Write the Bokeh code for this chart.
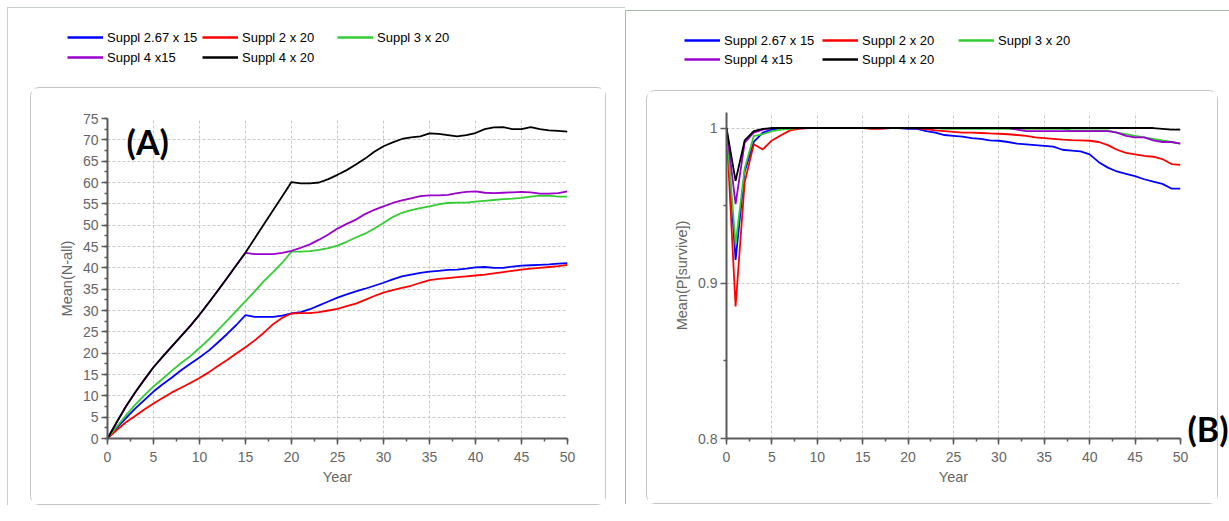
from bokeh.plotting import figure
from bokeh.layouts import row, column
from bokeh.models import (Label, Legend, LegendItem, SingleIntervalTicker,
                          FixedTicker, CustomJSTickFormatter, Range1d)
from bokeh.embed import file_html
from bokeh.resources import INLINE

years = list(range(0, 51))
series_names = ["Suppl 2.67 x 15", "Suppl 2 x 20", "Suppl 3 x 20", "Suppl 4 x15", "Suppl 4 x 20"]
series_colors = ["#0000ff", "#ff0000", "#33cc33", "#9900cc", "#000000"]

# Panel A: Mean(N-all)
a_blue = [0, 2.5, 4.8, 7.0, 9.0, 11.0, 12.7, 14.3, 16.0, 17.5, 19.0,
          20.6, 22.5, 24.5, 26.6, 28.9, 28.5, 28.5, 28.5, 28.8, 29.3,
          29.6, 30.3, 31.2, 32.1, 33.0, 33.8, 34.5, 35.1, 35.8, 36.5,
          37.3, 38.0, 38.4, 38.8, 39.1, 39.3, 39.5, 39.6, 39.8, 40.1,
          40.2, 40.0, 40.0, 40.3, 40.5, 40.6, 40.7, 40.8, 41.0, 41.1]
a_red = [0, 2.0, 3.8, 5.3, 6.8, 8.2, 9.5, 10.8, 11.9, 13.0, 14.2,
         15.5, 17.0, 18.4, 19.9, 21.4, 23.0, 24.8, 26.8, 28.3, 29.3,
         29.4, 29.4, 29.6, 30.0, 30.4, 31.0, 31.6, 32.5, 33.4, 34.2,
         34.8, 35.3, 35.8, 36.5, 37.1, 37.4, 37.6, 37.8, 38.0, 38.2,
         38.4, 38.7, 39.0, 39.3, 39.6, 39.8, 40.0, 40.2, 40.4, 40.7]
a_green = [0, 2.8, 5.4, 7.9, 10.1, 12.2, 14.0, 15.9, 17.7, 19.3, 21.2,
           23.2, 25.4, 27.6, 29.9, 32.2, 34.5, 36.9, 39.0, 41.2, 43.8,
           43.8, 43.9, 44.2, 44.6, 45.2, 46.1, 47.1, 48.0, 49.2, 50.5,
           51.9, 52.9, 53.5, 54.0, 54.4, 54.9, 55.2, 55.3, 55.3, 55.5,
           55.7, 55.9, 56.1, 56.2, 56.4, 56.7, 56.9, 56.9, 56.7, 56.7]
a_purple = [0, 3.8, 7.5, 10.8, 13.8, 16.7, 19.2, 21.6, 24.0, 26.4, 29.0,
            31.8, 34.7, 37.6, 40.6, 43.5, 43.2, 43.2, 43.2, 43.5, 44.0,
            44.7, 45.5, 46.6, 47.8, 49.2, 50.3, 51.3, 52.6, 53.6, 54.4,
            55.2, 55.8, 56.3, 56.8, 57.0, 57.0, 57.1, 57.5, 57.8, 57.9,
            57.6, 57.5, 57.6, 57.7, 57.8, 57.7, 57.4, 57.4, 57.5, 57.9]
a_black = [0, 3.8, 7.5, 10.8, 13.8, 16.7, 19.2, 21.6, 24.0, 26.4, 29.0,
           31.8, 34.7, 37.6, 40.6, 43.6, 46.9, 50.2, 53.5, 56.8, 60.1,
           59.8, 59.8, 60.0, 60.8, 61.8, 62.9, 64.2, 65.6, 67.2, 68.5,
           69.4, 70.2, 70.6, 70.8, 71.5, 71.4, 71.1, 70.8, 71.1, 71.6,
           72.5, 72.9, 73.0, 72.5, 72.5, 73.0, 72.5, 72.2, 72.1, 71.9]

# Panel B: Mean(P[survive])
b_blue = [1, 0.915, 0.972, 0.991, 0.997, 0.999, 1, 1, 1, 1, 1,
          1, 1, 1, 1, 1, 1, 1, 1, 1, 0.9995,
          0.9994, 0.998, 0.997, 0.9955, 0.995, 0.9945, 0.9935, 0.993, 0.992, 0.9918,
          0.991, 0.990, 0.9895, 0.989, 0.9885, 0.988, 0.986, 0.9855, 0.985, 0.983,
          0.978, 0.9745, 0.972, 0.9705, 0.969, 0.967, 0.9655, 0.964, 0.961, 0.961]
b_red = [1, 0.885, 0.965, 0.9895, 0.9862, 0.992, 0.9953, 0.9985, 0.9995, 1, 1,
         1, 1, 1, 1, 1, 0.9995, 0.9995, 1, 1, 1,
         0.9998, 0.9993, 0.9985, 0.998, 0.9975, 0.997, 0.997, 0.9968, 0.9965, 0.9963,
         0.996, 0.9955, 0.995, 0.994, 0.9935, 0.993, 0.9925, 0.9922, 0.992, 0.9918,
         0.991, 0.989, 0.986, 0.984, 0.983, 0.982, 0.9815, 0.980, 0.9768, 0.9763]
b_green = [1, 0.925, 0.974, 0.9948, 0.996, 0.998, 0.999, 0.9995, 1, 1, 1,
           1, 1, 1, 1, 1, 1, 1, 1, 1, 1,
           1, 1, 1, 0.9995, 0.9995, 0.9995, 0.9995, 0.9995, 0.9995, 0.9995,
           0.9995, 0.9995, 0.9995, 0.9995, 0.9995, 0.9995, 0.9995, 0.9985, 0.9985, 0.9985,
           0.9985, 0.9985, 0.997, 0.996, 0.995, 0.994, 0.993, 0.992, 0.991, 0.990]
b_purple = [1, 0.951, 0.9906, 0.997, 0.999, 1, 1, 1, 1, 1, 1,
            1, 1, 1, 1, 1, 1, 1, 1, 1, 1,
            1, 1, 1, 1, 1, 1, 1, 1, 1, 1,
            1, 0.999, 0.998, 0.998, 0.998, 0.998, 0.998, 0.998, 0.998, 0.998,
            0.998, 0.998, 0.997, 0.995, 0.994, 0.994, 0.992, 0.991, 0.991, 0.990]
b_black = [1, 0.966, 0.992, 0.998, 0.9995, 1, 1, 1, 1, 1, 1,
           1, 1, 1, 1, 1, 1, 1, 1, 1, 1,
           1, 1, 1, 1, 1, 1, 1, 1, 1, 1,
           1, 1, 1, 1, 1, 1, 1, 1, 1, 1,
           1, 1, 1, 1, 1, 1, 1, 0.9995, 0.999, 0.999]

FONT = "Liberation Sans"
TICK_COL = "#666666"
AXIS_COL = "#5a5a5a"
GRID_COL = "#c8c8c8"
BOX_STYLE = {"border": "1px solid #c4c4c4", "border-radius": "9px"}


def style_axes(p):
    for ax in (p.xaxis[0], p.yaxis[0]):
        ax.axis_line_color = AXIS_COL
        ax.axis_line_width = 2
        ax.major_tick_line_color = AXIS_COL
        ax.minor_tick_line_color = AXIS_COL
        ax.major_tick_line_width = 1.5
        ax.minor_tick_line_width = 1.5
        ax.major_tick_out = 6
        ax.major_tick_in = 0
        ax.minor_tick_out = 3
        ax.minor_tick_in = 0
        ax.major_label_text_font = FONT
        ax.major_label_text_font_size = "14px"
        ax.major_label_text_color = TICK_COL
        ax.axis_label_text_font = FONT
        ax.axis_label_text_font_size = "14.5px"
        ax.axis_label_text_color = TICK_COL
        ax.axis_label_text_font_style = "normal"
    p.xaxis[0].major_label_standoff = 7
    p.xaxis[0].axis_label_standoff = 4
    p.yaxis[0].major_label_standoff = 3
    p.yaxis[0].axis_label_standoff = 5
    p.outline_line_color = None


def blank_fig(w, h, **kw):
    f = figure(width=w, height=h, x_range=Range1d(-100, -99), y_range=Range1d(0, 1),
               output_backend="svg", toolbar_location=None, min_border=0, **kw)
    f.axis.visible = False
    f.grid.visible = False
    f.outline_line_color = None
    f.background_fill_alpha = 0
    f.border_fill_alpha = 0
    return f


def legend_fig(w, h, data, xs, y2, y1, spacing):
    """Legend strip: three single-column legends (row-major reading order)."""
    f = blank_fig(w, h)
    rs = [f.line(years, ys, line_color=c, line_width=2.5) for ys, c in zip(data, series_colors)]
    groups = [[0, 3], [1, 4], [2]]
    for grp, x in zip(groups, xs):
        items = [LegendItem(label=series_names[i], renderers=[rs[i]]) for i in grp]
        lg = Legend(items=items, location=(x, y2 if len(grp) == 2 else y1))
        lg.label_text_font = FONT
        lg.label_text_font_size = "13px"
        lg.label_text_color = "#000000"
        lg.glyph_width = 36
        lg.glyph_height = 16
        lg.label_height = 16
        lg.label_standoff = 4
        lg.spacing = spacing
        lg.padding = 0
        lg.margin = 0
        lg.border_line_color = None
        lg.background_fill_alpha = 0
        f.add_layout(lg)
    return f


# ---------------- Panel A ----------------
a_data = [a_blue, a_red, a_green, a_purple, a_black]
legA = legend_fig(617, 79, a_data, [59, 194, 329], 22, 42, 4)

pA = figure(width=576, height=418, x_range=Range1d(0, 50), y_range=Range1d(0, 75),
            output_backend="svg", toolbar_location=None,
            min_border_left=76, min_border_right=40, min_border_top=30, min_border_bottom=68,
            x_axis_label="Year", y_axis_label="Mean(N-all)",
            margin=(0, 0, 0, 22), styles=BOX_STYLE)
pA.xaxis[0].ticker = SingleIntervalTicker(interval=5, num_minor_ticks=2)
pA.yaxis[0].ticker = SingleIntervalTicker(interval=5, num_minor_ticks=2)
pA.xgrid.ticker = SingleIntervalTicker(interval=5)
pA.ygrid.ticker = SingleIntervalTicker(interval=5)
for g in (pA.xgrid[0], pA.ygrid[0]):
    g.grid_line_color = GRID_COL
    g.grid_line_dash = "3 2"
    g.grid_line_width = 1
style_axes(pA)
for ys, c in zip(a_data, series_colors):
    pA.line(years, ys, line_color=c, line_width=1.8)
pA.add_layout(Label(x=2.07, y=74.3, text="(A)", text_font="Lato", text_font_style="bold",
                    text_font_size="34px", text_baseline="top", text_color="#000000"))

colA = column(legA, row(pA, spacing=0), margin=(7, 0, 0, 7), spacing=0,
              styles={"border-top": "1px solid #c9cfc9", "border-left": "1px solid #c9cfc9"})

# ---------------- Panel B ----------------
b_data = [b_blue, b_red, b_green, b_purple, b_black]
legB = legend_fig(603, 79, b_data, [58, 196, 332], 23, 42, 3)

pB = figure(width=572, height=414, x_range=Range1d(0, 50), y_range=Range1d(0.8, 1.01),
            output_backend="svg", toolbar_location=None,
            min_border_left=79, min_border_right=39, min_border_top=21, min_border_bottom=67,
            x_axis_label="Year", y_axis_label="Mean(P[survive])",
            margin=(0, 0, 0, 20), styles=BOX_STYLE)
pB.xaxis[0].ticker = SingleIntervalTicker(interval=5, num_minor_ticks=2)
pB.yaxis[0].ticker = FixedTicker(ticks=[0.8, 0.9, 1.0], minor_ticks=[0.85, 0.95])
pB.yaxis[0].formatter = CustomJSTickFormatter(code="return tick.toFixed(2).replace(/\\.?0+$/, '');")
pB.xgrid.ticker = SingleIntervalTicker(interval=5)
pB.ygrid.ticker = FixedTicker(ticks=[0.9, 1.0])
for g in (pB.xgrid[0], pB.ygrid[0]):
    g.grid_line_color = GRID_COL
    g.grid_line_dash = "3 2"
    g.grid_line_width = 1
style_axes(pB)
for ys, c in zip(b_data, series_colors):
    pB.line(years, ys, line_color=c, line_width=1.8)

labB = blank_fig(42, 44)
labB.x_range = Range1d(0, 1)
labB.add_layout(Label(x=0, y=0.5, text="(B)", text_font="Lato", text_font_style="bold",
                      text_font_size="34px", text_baseline="middle", text_align="left",
                      text_color="#000000"))
labB_wrap = column(labB, margin=(316, 0, 0, -31), spacing=0)

rowB = row(pB, labB_wrap, spacing=0)
colB = column(legB, rowB, margin=(10, 0, 0, 0), spacing=0,
              styles={"border-top": "1px solid #aab8aa", "border-left": "1px solid #aab8aa"})

layout = row(colA, colB, spacing=0)
open("out.html", "w").write(file_html(layout, INLINE))
